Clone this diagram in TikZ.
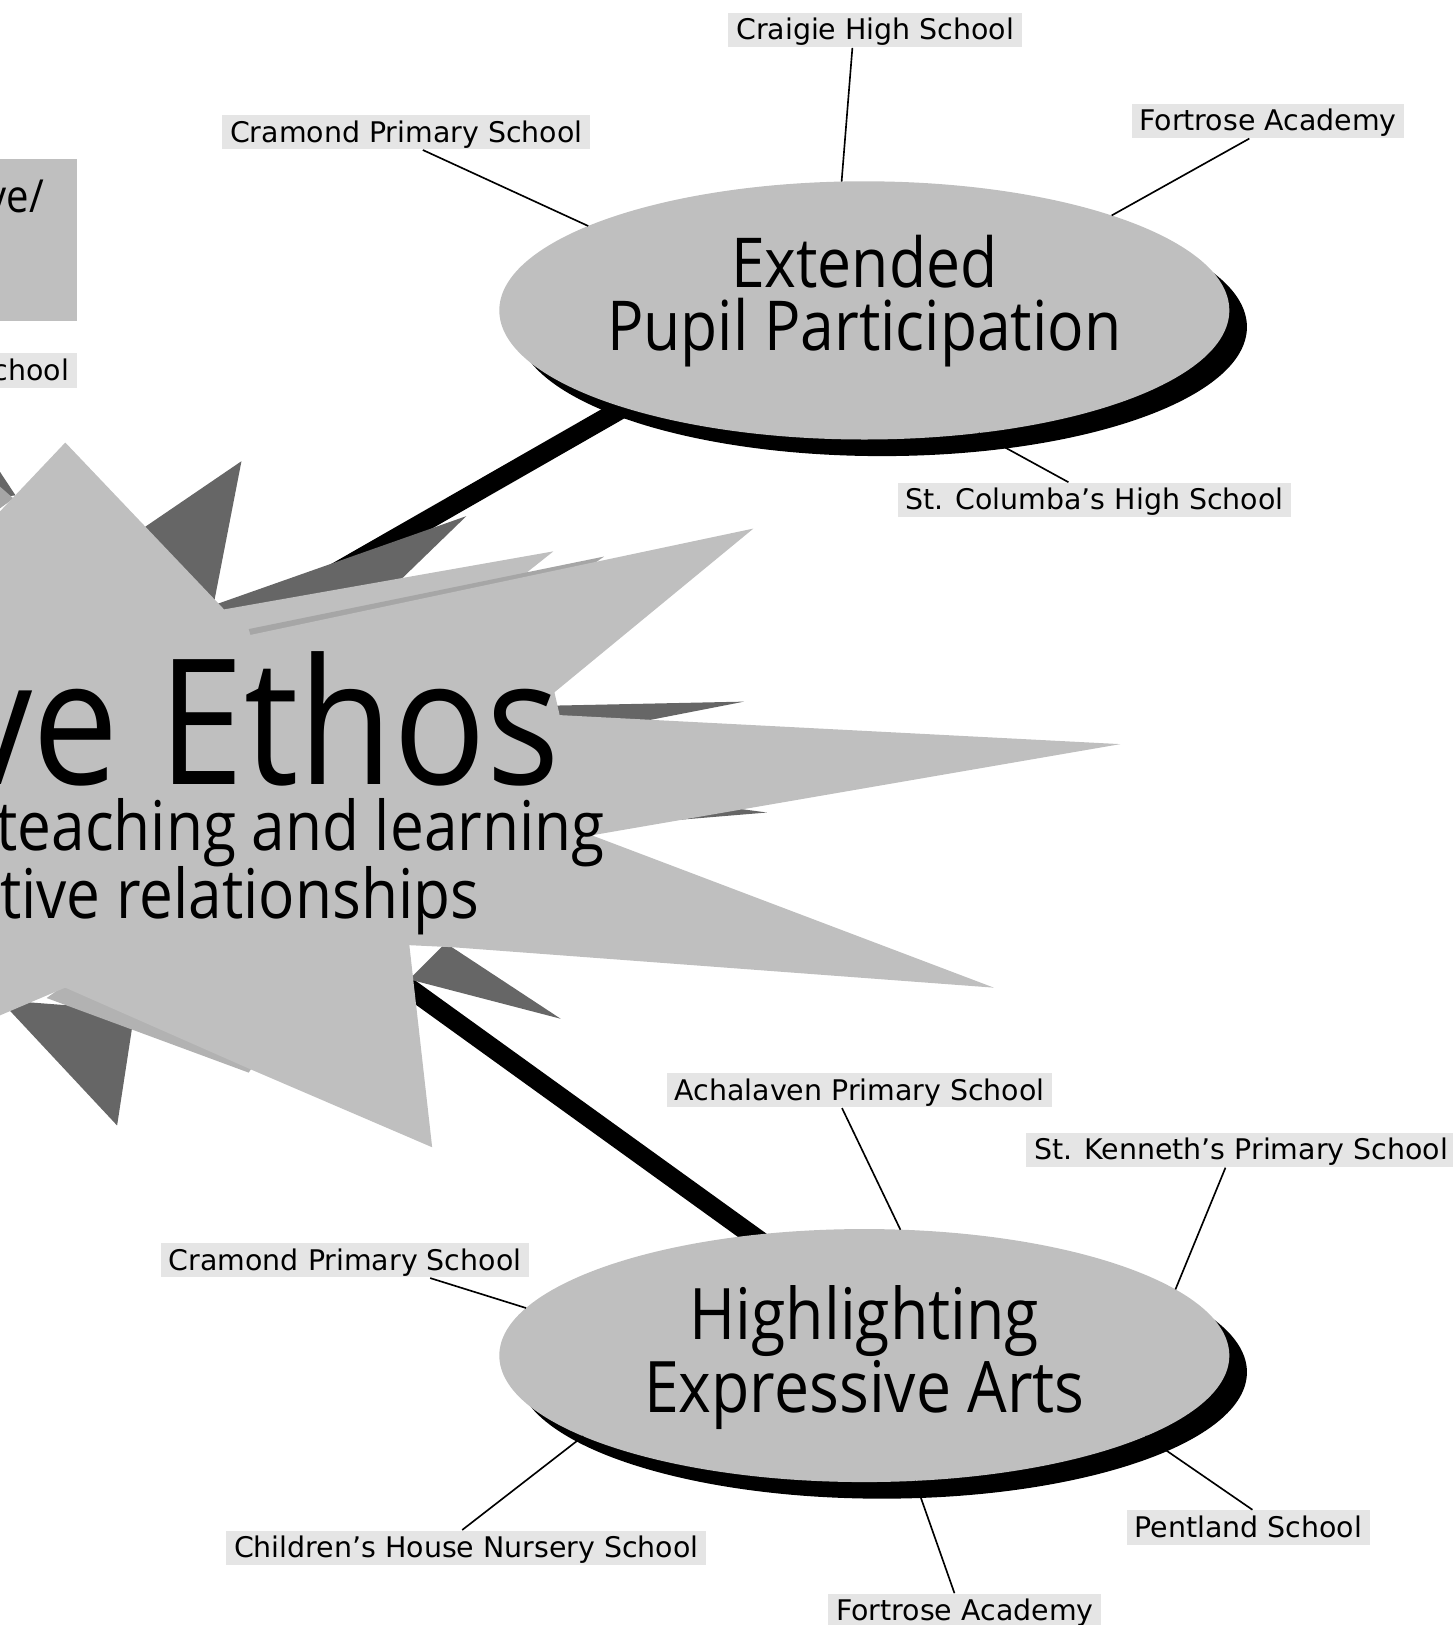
\documentclass[tikz,border=0pt]{standalone}
\usepackage{fontspec}
\setmainfont{DejaVu Sans}
\newfontfamily\handfont[FakeStretch=0.88]{Open Sans}
\usetikzlibrary{shapes.geometric,shadows}
\definecolor{burst}{gray}{0.75}
\definecolor{burstdark}{gray}{0.4}
\definecolor{burstmid}{gray}{0.65}
\definecolor{tagfill}{gray}{0.9}
\pgfdeclarelayer{back}
\pgfsetlayers{back,main}
\tikzset{
  school/.style={fill=tagfill,font=\fontsize{7.8}{9}\selectfont,inner xsep=0.075cm,inner ysep=0pt,text height=0.26cm,text depth=0.07cm},
  theme/.style={ellipse,fill=burst,inner sep=0pt,outer sep=0pt,minimum width=7.04cm,
    drop shadow={shadow xshift=0.17cm,shadow yshift=-0.16cm,fill=black,opacity=1}},
  themetext/.style={align=center,inner sep=0pt},
  link/.style={line width=0.45pt},
  spoke/.style={line width=5.3pt,shorten >=-0.3cm},
  burstext/.style={anchor=base east,inner sep=0pt},
}
\begin{document}
\begin{tikzpicture}[x=0.01cm,y=-0.01cm]
\useasboundingbox (0,0) rectangle (1402,1568);
\clip (0,0) rectangle (1402,1568);
% box and tag at the left edge
\node[fill=burst,minimum width=0.85cm,minimum height=1.56cm,inner sep=0pt,anchor=north east] (goals) at (75,153) {};
\node[burstext,font=\handfont\fontsize{12.5}{14}\selectfont] (goalstext) at (43,205) {ve/};
\node[school,anchor=east] (schoolzero) at (75,357.5) {chool};
% the burst: dark spikes first
\fill[burstdark] (-20,425)--(15,478)--(-20,482)--cycle;
\fill[burstmid] (-20,452)--(13,481)--(-20,505)--cycle;
\fill[burstdark] (120,522)--(233,445)--(206,584)--(450,498)--(386,560)--(300,640)--(150,640)--cycle;
\fill[burstdark] (480,682)--(718,677)--(600,700)--cycle;
\fill[burstdark] (560,760)--(740,784)--(560,799)--cycle;
\fill[burstdark] (430,910)--(541,983)--(395,945)--cycle;
\fill[burstdark] (0,965)--(113,1086)--(130,975)--cycle;
\fill[burst] (205,590)--(534,532)--(505,555)--(240,625)--cycle;
\fill[burstmid] (240,607)--(583,537)--(520,580)--(250,640)--cycle;
\fill[gray!60!white] (45,963)--(63,950)--(244,1029)--(240,1035)--cycle;
% main burst
\fill[burst] (-10,504)--(63,427)--(240,613)--(727,510)--(535,668)--(540,690)--(1081,718)--(571,806)--(959,953)
  --(437,914)--(395,912)--(417,1107)--(240,1031)--(63,953)--(51,958)--(-10,984)--cycle;
\node[burstext,font=\handfont\fontsize{48}{50}\selectfont] (ethos) at (541,757) {ve Ethos};
\node[burstext,font=\handfont\fontsize{18.8}{20}\selectfont] (ethosteach) at (584,821) {teaching and learning};
\node[burstext,font=\handfont\fontsize{18.8}{20}\selectfont] (ethosrel) at (463,886) {tive relationships};
\coordinate (hubtop) at (150,652);
\coordinate (hubbot) at (300,885);
% the two themes
\node[theme,minimum height=2.49cm] (extended) at (834,299.5) {};
\node[themetext,font=\handfont\fontsize{18.9}{17.4}\selectfont] (extendedtext) at ([yshift=0.09cm]extended.center) {Extended\\Pupil Participation};
\node[theme,minimum height=2.44cm] (highlight) at (834,1308) {};
\node[themetext,font=\handfont\fontsize{19.5}{17.2}\selectfont] (highlighttext) at ([yshift=-0.02cm]highlight.center) {Highlighting\\Expressive Arts};
\begin{pgfonlayer}{back}
\draw[spoke] (hubtop)--(extended.-158);
\draw[spoke] (hubbot)--(highlight.133);
\end{pgfonlayer}
% schools
\node[school] (craigie) at (844.5,29) {Craigie High School};
\node[school] (fortroseA) at (1223.5,116.5) {Fortrose Academy};
\node[school] (cramondA) at (392,127.5) {Cramond Primary School};
\node[school] (columba) at (1056,482.5) {St. Columba’s High School};
\node[school] (achalaven) at (829.5,1052) {Achalaven Primary School};
\node[school] (kenneth) at (1197.5,1109.5) {St. Kenneth’s Primary School};
\node[school] (cramondB) at (333,1216) {Cramond Primary School};
\node[school] (childrens) at (450,1493.5) {Children’s House Nursery School};
\node[school] (pentland) at (1204.5,1474) {Pentland School};
\node[school] (fortroseB) at (931,1554.5) {Fortrose Academy};
\draw[link] ([xshift=-0.22cm]craigie.south)--(extended.100);
\draw[link] ([xshift=-0.18cm]fortroseA.south)--(extended.21);
\draw[link] ([xshift=0.16cm]cramondA.south)--(extended.163);
\draw[link] ([xshift=-0.25cm]columba.north)--(extended.-47);
\draw[link] ([xshift=-0.17cm]achalaven.south)--(highlight.74);
\draw[link] ([xshift=-0.15cm]kenneth.south)--(highlight.12);
\draw[link] ([xshift=0.82cm]cramondB.south)--(highlight.172);
\draw[link] ([xshift=-0.04cm]childrens.north)--(highlight.196);
\draw[link] ([xshift=0.04cm]pentland.north)--(highlight.-16);
\draw[link] ([xshift=-0.1cm]fortroseB.north)--(highlight.-68);
\end{tikzpicture}
\end{document}
